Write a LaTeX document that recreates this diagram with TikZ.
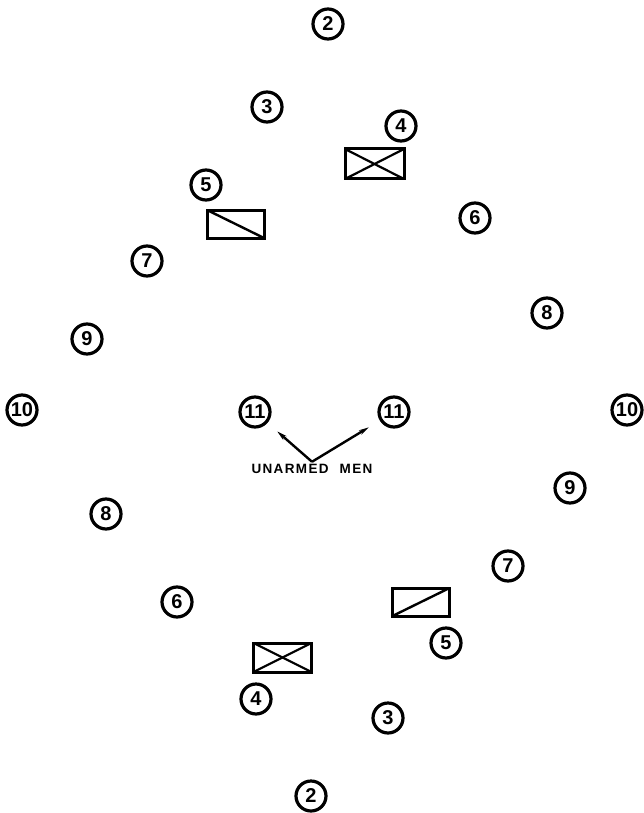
\documentclass[tikz,border=0pt]{standalone}
\usepackage{fontspec}
\setmainfont{Liberation Sans}
\usetikzlibrary{arrows.meta}
\tikzset{
  num/.style={
    circle, draw=black, line width=3.2pt,
    minimum size=30pt, inner sep=0pt,
    font=\bfseries\fontsize{20}{20}\selectfont
  },
  veh/.style={
    rectangle, draw=black, line width=3pt,
    minimum width=57pt, minimum height=28pt, inner sep=0pt
  },
  xveh/.style={veh, path picture={
      \draw[line width=2.2pt] (path picture bounding box.north west) -- (path picture bounding box.south east);
      \draw[line width=2.2pt] (path picture bounding box.south west) -- (path picture bounding box.north east);}},
  bveh/.style={veh, path picture={
      \draw[line width=2.4pt] (path picture bounding box.north west) -- (path picture bounding box.south east);}},
  fveh/.style={veh, path picture={
      \draw[line width=2.4pt] (path picture bounding box.south west) -- (path picture bounding box.north east);}},
  note/.style={font=\bfseries\fontsize{13.5}{14}\selectfont\addfontfeature{LetterSpace=10}},
  flow/.style={-{Stealth[length=10pt,width=5pt]}, line width=2.4pt, shorten >=13pt}
}

\begin{document}
\begin{tikzpicture}[x=1pt, y=-1pt]
  \useasboundingbox (0,0) rectangle (644,813);

  % upper file
  \node[num] (twoA)   at (328,24)  {2};
  \node[num] (threeA) at (267,107) {3};
  \node[num] (fourA)  at (401,126) {4};
  \node[num] (fiveA)  at (206,185) {5};
  \node[num] (sixA)   at (475,218) {6};
  \node[num] (sevenA) at (147,261) {7};
  \node[num] (eightA) at (547,313) {8};
  \node[num] (nineA)  at (87,339)  {9};
  \node[num] (tenA)   at (22,410)  {10};

  % vehicles
  \node[xveh, minimum width=59pt, minimum height=30pt] (vehA) at (374.5,164) {};
  \node[bveh] (vehB) at (235.5,224) {};
  \node[fveh] (vehC) at (421,602) {};
  \node[xveh, minimum width=58pt, minimum height=29pt] (vehD) at (282.5,657.5) {};

  % centre
  \node[num] (elevenA) at (255,412) {11};
  \node[num] (elevenB) at (394,412) {11};
  \node[note] (men) at (312,469) {UNARMED\hspace{6pt} MEN};

  % lower file
  \node[num] (tenB)   at (627,410) {10};
  \node[num] (nineB)  at (570,488) {9};
  \node[num] (eightB) at (106,514) {8};
  \node[num] (sevenB) at (508,566) {7};
  \node[num] (sixB)   at (177,602) {6};
  \node[num] (fiveB)  at (446,643) {5};
  \node[num] (fourB)  at (256,699) {4};
  \node[num] (threeB) at (388,718) {3};
  \node[num] (twoB)   at (311,796) {2};

  % arrows
  \draw[flow] ([yshift=-1pt]men.north) -- (elevenA);
  \draw[flow] ([yshift=-1pt]men.north) -- (elevenB);
\end{tikzpicture}
\end{document}
